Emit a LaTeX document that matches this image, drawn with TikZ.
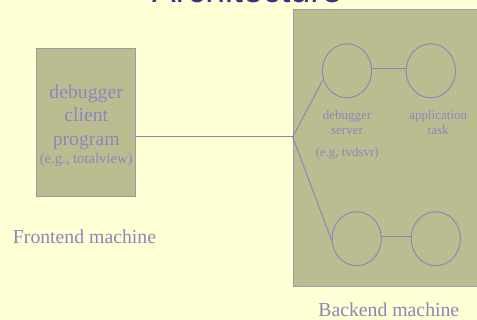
\documentclass[tikz,border=0pt]{standalone}
\usepackage{fontspec}
\setmainfont{Liberation Serif}
\newfontfamily\titlefont{Liberation Sans}
\usetikzlibrary{shapes.geometric}
\definecolor{paper}{RGB}{255,255,213}
\definecolor{olive}{RGB}{187,189,145}
\definecolor{rim}{RGB}{153,153,170}
\definecolor{lilac}{RGB}{136,136,187}
\definecolor{ink}{RGB}{51,51,136}

\begin{document}
\begin{tikzpicture}[x=0.75pt,y=0.75pt,yscale=-1,xscale=1,
  machbox/.style={draw=rim,fill=olive,line width=0.75pt,inner sep=0pt},
  proc/.style={ellipse,draw=lilac,line width=0.75pt,inner sep=0pt,minimum width=37pt,minimum height=40.5pt},
  wire/.style={draw=lilac,line width=0.75pt},
  bigtxt/.style={text=lilac,inner sep=0pt,font=\fontsize{14.8}{17.6}\selectfont,align=center},
  smalltxt/.style={text=lilac,inner sep=0pt,font=\fontsize{9.75}{11.25}\selectfont,align=center}]
%set diagram size to 477 x 320
\fill [paper] (0,0) rectangle (477,320);
\useasboundingbox (0,0) rectangle (477,320);
\clip (0,0) rectangle (477,320);

% Title (cut off at the top)
\node [anchor=base,inner sep=0pt,text=ink,font=\titlefont\fontsize{26.7}{30}\selectfont] (title) at (247,2.5) {Architecture};

%Shape: Rectangle [frontend]
\node [machbox,minimum width=74.25pt,minimum height=110.8pt] (front) at (86.2,122.2) {};
%Shape: Rectangle [backend]
\node [machbox,anchor=north west,minimum width=150pt,minimum height=207.75pt] (back) at (292.7,9) {};

% Text Node
\node [bigtxt] (fronttxt) at (86.2,117.2) {debugger\\client\\program};
% Text Node
\node [bigtxt,anchor=base,font=\fontsize{11}{13}\selectfont] (fronteg) at (86.2,163.3) {(e.g., totalview)};

%Shape: Ellipses
\node [proc] (srvA) at (347,70.8) {};
\node [proc] (appA) at (430.8,70.8) {};
\node [proc] (srvB) at (356.7,238.7) {};
\node [proc] (appB) at (435.8,238.7) {};

%Straight Lines
\coordinate (fork) at (292.7,137);
\draw [wire] (fork -| front.east) -- (fork);
\draw [wire] (fork) -- (srvA.200);
\draw [wire] (fork) -- (srvB.184);
\draw [wire] (srvA.5) -- (appA.175);
\draw [wire] (srvB.5) -- (appB.175);

% Text Node
\node [smalltxt,anchor=base] (srvtxt) at (347,119.3) {debugger};
\node [smalltxt,anchor=base] (srvtxtb) at (347,134.3) {server};
\node [smalltxt,anchor=base] (srveg) at (347.2,156.7) {(e.g, tvdsvr)};
\node [smalltxt,anchor=base] (apptxt) at (438.2,119.3) {application};
\node [smalltxt,anchor=base] (apptxtb) at (438.2,134.3) {task};

% Text Node
\node [bigtxt,anchor=base west] (frontlbl) at (12.7,243.3) {Frontend machine};
% Text Node
\node [bigtxt,anchor=base] (backlbl) at (388.8,316.7) {Backend machine};

\end{tikzpicture}
\end{document}
